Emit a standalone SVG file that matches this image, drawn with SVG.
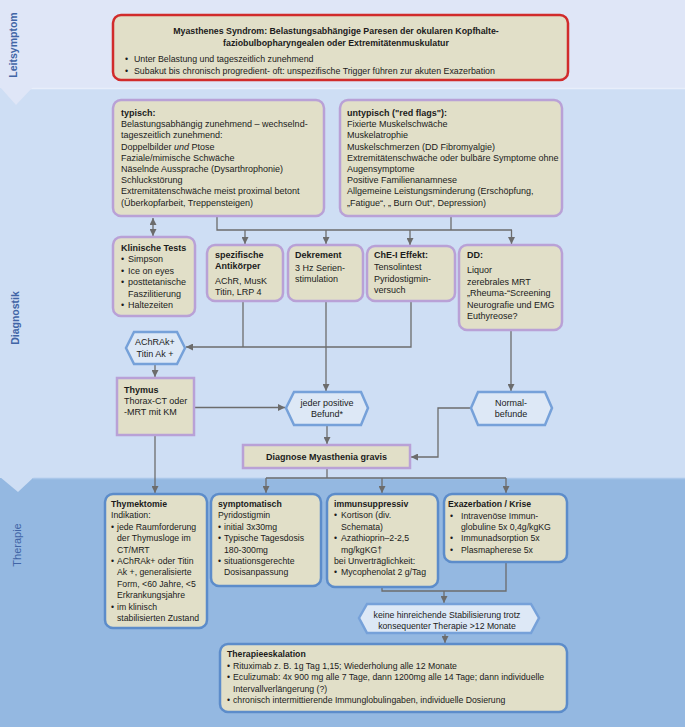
<svg xmlns="http://www.w3.org/2000/svg" width="685" height="727" viewBox="0 0 685 727">
<style>
text{font-family:"Liberation Sans",Arial,sans-serif;font-size:9px;fill:#1b1b1b}
.b{font-weight:bold}
.m{text-anchor:middle}
.s{font-size:8.7px}
.r{font-size:8.8px}
.box{fill:#e1dfc8;stroke:#b9a1d6;stroke-width:2.5}
.bbox{fill:#e1dfc8;stroke:#5c8cca;stroke-width:2.5}
.hex{fill:#dde8f6;stroke:#76a1d9;stroke-width:2.5}
.side{font-size:10.5px;fill:#4165a6}
.con{fill:none;stroke:#6c6c6c;stroke-width:1.3}
</style>
<defs>
<marker id="ah" viewBox="0 0 10 10" refX="10" refY="5" markerWidth="7" markerHeight="7" markerUnits="userSpaceOnUse" orient="auto-start-reverse"><path d="M0,0 L10,5 L0,10 z" fill="#6c6c6c"/></marker>
</defs>
<!-- bands -->
<g id="bands">
<rect x="0" y="0" width="685" height="88" fill="#dfe6f7"/>
<rect x="0" y="88" width="685" height="390" fill="#cedef4"/>
<rect x="0" y="478" width="685" height="249" fill="#94b8e1"/>
<line x1="23" y1="88.5" x2="685" y2="88.5" stroke="#e8eefa" stroke-width="1.5"/>
<polygon points="0,87 33,87 16,105" fill="#dfe6f7"/>
<line x1="33" y1="478.5" x2="685" y2="478.5" stroke="#a9c6e9" stroke-width="1.5"/>
<polygon points="0,477 34,477 18,492" fill="#cedef4"/>
<text class="side b m" transform="translate(17,45) rotate(-90)">Leitsymptom</text>
<text class="side b m" transform="translate(19,318) rotate(-90)">Diagnostik</text>
<text class="side m" style="font-size:11px" transform="translate(21,545) rotate(-90)">Therapie</text>
</g>
<!-- connectors -->
<g id="connectors">
<polyline class="con" points="217,216 217,230 512,230"/>
<line class="con" x1="451" y1="216" x2="451" y2="230"/>
<line class="con" x1="245" y1="230" x2="245" y2="244" marker-end="url(#ah)"/>
<line class="con" x1="326" y1="230" x2="326" y2="244" marker-end="url(#ah)"/>
<line class="con" x1="410" y1="230" x2="410" y2="245" marker-end="url(#ah)"/>
<line class="con" x1="511.5" y1="230" x2="511.5" y2="244" marker-end="url(#ah)"/>
<line class="con" x1="153" y1="218" x2="153" y2="236" marker-start="url(#ah)" marker-end="url(#ah)"/>
<polyline class="con" points="411,301 411,347 186,347" marker-end="url(#ah)"/>
<line class="con" x1="243" y1="301" x2="243" y2="347"/>
<line class="con" x1="326" y1="301" x2="326" y2="391" marker-end="url(#ah)"/>
<line class="con" x1="511" y1="330" x2="511" y2="391" marker-end="url(#ah)"/>
<line class="con" x1="155" y1="364" x2="155" y2="377" marker-end="url(#ah)"/>
<line class="con" x1="194" y1="407.5" x2="285" y2="407.5" marker-end="url(#ah)"/>
<line class="con" x1="327" y1="425" x2="327" y2="444" marker-end="url(#ah)"/>
<polyline class="con" points="471,408 438,408 438,457 411,457" marker-end="url(#ah)"/>
<line class="con" x1="327" y1="468" x2="327" y2="478"/>
<line class="con" x1="266" y1="478" x2="506" y2="478"/>
<line class="con" x1="266" y1="478" x2="266" y2="493" marker-end="url(#ah)"/>
<line class="con" x1="382" y1="478" x2="382" y2="493" marker-end="url(#ah)"/>
<line class="con" x1="506" y1="478" x2="506" y2="493" marker-end="url(#ah)"/>
<line class="con" x1="155" y1="435" x2="155" y2="493" marker-end="url(#ah)"/>
<polyline class="con" points="382,587 382,591 506,591 506,562"/>
<line class="con" x1="444" y1="591" x2="444" y2="603" marker-end="url(#ah)"/>
<line class="con" x1="445" y1="633" x2="445" y2="643" marker-end="url(#ah)"/>
</g>
<!-- Leitsymptom -->
<g id="leitsymptom">
<rect x="113" y="15" width="455" height="65" rx="8" fill="#e1dfc8" stroke="#d12b2b" stroke-width="2.5"/>
<text class="b m r" x="336" y="34">Myasthenes Syndrom: Belastungsabhängige Paresen der okularen Kopfhalte-</text>
<text class="b m r" x="336" y="46">faziobulbopharyngealen oder Extremitätenmuskulatur</text>
<text class="r" x="125" y="62">•</text><text class="r" x="134" y="62">Unter Belastung und tageszeitlich zunehmend</text>
<text class="r" x="125" y="74">•</text><text class="r" x="134" y="74">Subakut bis chronisch progredient- oft: unspezifische Trigger führen zur akuten Exazerbation</text>
</g>
<!-- typisch -->
<g id="typisch">
<rect class="box" x="113" y="100" width="211" height="116" rx="8"/>
<text class="b" x="121" y="116">typisch:</text>
<text x="121" y="127.2">Belastungsabhängig zunehmend – wechselnd-</text>
<text x="121" y="138.4">tageszeitlich zunehmend:</text>
<text x="121" y="149.6">Doppelbilder <tspan font-style="italic">und</tspan> Ptose</text>
<text x="121" y="160.8">Faziale/mimische Schwäche</text>
<text x="121" y="172">Näselnde Aussprache (Dysarthrophonie)</text>
<text x="121" y="183.2">Schluckstörung</text>
<text x="121" y="194.4">Extremitätenschwäche meist proximal betont</text>
<text x="121" y="205.6">(Überkopfarbeit, Treppensteigen)</text>
</g>
<!-- untypisch -->
<g id="untypisch">
<rect class="box" x="340" y="100" width="222" height="116" rx="8"/>
<text class="b" x="347" y="116">untypisch ("red flags"):</text>
<text x="347" y="127.2">Fixierte Muskelschwäche</text>
<text x="347" y="138.4">Muskelatrophie</text>
<text x="347" y="149.6">Muskelschmerzen (DD Fibromyalgie)</text>
<text x="347" y="160.8">Extremitätenschwäche oder bulbäre Symptome ohne</text>
<text x="347" y="172">Augensymptome</text>
<text x="347" y="183.2">Positive Familienanamnese</text>
<text x="347" y="194.4">Allgemeine Leistungsminderung (Erschöpfung,</text>
<text x="347" y="205.6">„Fatigue“, „ Burn Out“, Depression)</text>
</g>
<!-- Klinische Tests -->
<g id="klinische-tests">
<rect class="box" x="113" y="237" width="82" height="79" rx="8"/>
<text class="b" x="121" y="250.5">Klinische Tests</text>
<text x="121" y="262">•</text><text x="128" y="262">Simpson</text>
<text x="121" y="273.5">•</text><text x="128" y="273.5">Ice on eyes</text>
<text x="121" y="285">•</text><text x="128" y="285">posttetanische</text>
<text x="128" y="296.5">Faszilitierung</text>
<text x="121" y="308">•</text><text x="128" y="308">Haltezeiten</text>
</g>
<g id="antikoerper">
<rect class="box" x="207" y="245" width="76" height="56" rx="8"/>
<text class="b" x="215" y="258">spezifische</text>
<text class="b" x="215" y="269">Antikörper</text>
<text x="215" y="284">AChR, MusK</text>
<text x="215" y="295">Titin, LRP 4</text>
</g>
<g id="dekrement">
<rect class="box" x="288" y="245" width="75" height="56" rx="8"/>
<text class="b" x="295" y="258">Dekrement</text>
<text x="295" y="271">3 Hz Serien-</text>
<text x="295" y="282">stimulation</text>
</g>
<g id="chei">
<rect class="box" x="367" y="246" width="88" height="55" rx="8"/>
<text class="b" x="374" y="258">ChE-I Effekt:</text>
<text x="374" y="270">Tensolintest</text>
<text x="374" y="282">Pyridostigmin-</text>
<text x="374" y="293">versuch</text>
</g>
<g id="dd">
<rect class="box" x="459" y="245" width="103" height="85" rx="8"/>
<text class="b" x="467" y="258">DD:</text>
<text x="467" y="273">Liquor</text>
<text x="467" y="285">zerebrales MRT</text>
<text x="467" y="296">„Rheuma-“Screening</text>
<text x="467" y="307.5">Neurografie und EMG</text>
<text x="467" y="319">Euthyreose?</text>
</g>
<g id="achrak">
<polygon class="hex" points="126,348 134,332 177,332 185,348 177,364 134,364"/>
<text class="m" x="155" y="345">AChRAk+</text>
<text class="m" x="155" y="357">Titin Ak +</text>
</g>
<g id="thymus">
<rect class="box" x="117" y="378" width="77" height="57"/>
<text class="b" x="124" y="393">Thymus</text>
<text x="124" y="404">Thorax-CT oder</text>
<text x="124" y="415">-MRT mit KM</text>
</g>
<g id="positiv">
<polygon class="hex" points="286,408 294,392 361,392 368,408 361,425 294,425"/>
<text class="m" x="327" y="406">jeder positive</text>
<text class="m" x="327" y="417">Befund*</text>
</g>
<g id="normal">
<polygon class="hex" points="471,408 478,392 545,392 552,408 545,425 478,425"/>
<text class="m" x="511" y="406">Normal-</text>
<text class="m" x="511" y="417">befunde</text>
</g>
<g id="diagnose">
<rect class="box" x="243" y="445" width="167" height="23"/>
<text class="b m" x="326.5" y="460">Diagnose Myasthenia gravis</text>
</g>
<!-- Therapie -->
<g id="thymektomie">
<rect class="bbox" x="105" y="494" width="102" height="134" rx="8"/>
<text class="b s" x="111" y="507">Thymektomie</text>
<text class="s" x="111" y="518.4">Indikation:</text>
<text class="s" x="111" y="529.8">•</text><text class="s" x="117" y="529.8">jede  Raumforderung</text>
<text class="s" x="117" y="541.2">der Thymusloge im</text>
<text class="s" x="117" y="552.6">CT/MRT</text>
<text class="s" x="111" y="564">•</text><text class="s" x="117" y="564">AChRAk+ oder Titin</text>
<text class="s" x="117" y="575.4">Ak +, generalisierte</text>
<text class="s" x="117" y="586.8">Form, &lt;60 Jahre, &lt;5</text>
<text class="s" x="117" y="598.2">Erkrankungsjahre</text>
<text class="s" x="111" y="609.6">•</text><text class="s" x="117" y="609.6">im klinisch</text>
<text class="s" x="117" y="621">stabilisierten Zustand</text>
</g>
<g id="symptomatisch">
<rect class="bbox" x="211" y="494" width="110" height="92" rx="8"/>
<text class="b s" x="218" y="507">symptomatisch</text>
<text class="s" x="218" y="518.4">Pyridostigmin</text>
<text class="s" x="218" y="529.8">•</text><text class="s" x="224" y="529.8">initial 3x30mg</text>
<text class="s" x="218" y="541.2">•</text><text class="s" x="224" y="541.2">Typische Tagesdosis</text>
<text class="s" x="224" y="552.6">180-300mg</text>
<text class="s" x="218" y="564">•</text><text class="s" x="224" y="564">situationsgerechte</text>
<text class="s" x="224" y="575.4">Dosisanpassung</text>
</g>
<g id="immunsuppressiv">
<rect class="bbox" x="327" y="494" width="111" height="93" rx="8"/>
<text class="b s" x="334" y="507">immunsuppressiv</text>
<text class="s" x="334" y="518.4">•</text><text class="s" x="341" y="518.4">Kortison (div.</text>
<text class="s" x="341" y="529.8">Schemata)</text>
<text class="s" x="334" y="541.2">•</text><text class="s" x="341" y="541.2">Azathioprin–2-2,5</text>
<text class="s" x="341" y="552.6">mg/kgKG†</text>
<text class="s" x="334" y="564">bei Unverträglichkeit:</text>
<text class="s" x="334" y="575.4">•</text><text class="s" x="341" y="575.4">Mycophenolat 2 g/Tag</text>
</g>
<g id="exazerbation">
<rect class="bbox" x="444" y="494" width="123" height="68" rx="8"/>
<text class="b s" x="448" y="507">Exazerbation / Krise</text>
<text class="s" x="450" y="518.6">•</text><text class="s" x="461" y="518.6">Intravenöse Immun-</text>
<text class="s" x="461" y="530">globuline 5x 0,4g/kgKG</text>
<text class="s" x="450" y="541.4">•</text><text class="s" x="461" y="541.4">Immunadsorption 5x</text>
<text class="s" x="450" y="552.8">•</text><text class="s" x="461" y="552.8">Plasmapherese 5x</text>
</g>
<g id="keine">
<polygon class="hex" points="359,618 367,604 531,604 539,618 531,633 367,633"/>
<text class="m s" x="447" y="618">keine hinreichende Stabilisierung trotz</text>
<text class="m s" x="447" y="629">konsequenter Therapie &gt;12 Monate</text>
</g>
<g id="eskalation">
<rect class="bbox" x="220" y="644" width="347" height="68" rx="8"/>
<text class="b s" x="227" y="657">Therapieeskalation</text>
<text class="s" x="227" y="668.7">•</text><text class="s" x="233" y="668.7">Rituximab z. B. 1g Tag 1,15; Wiederholung alle 12 Monate</text>
<text class="s" x="227" y="680.3">•</text><text class="s" x="233" y="680.3">Eculizumab: 4x 900 mg alle 7 Tage, dann 1200mg alle 14 Tage; dann individuelle</text>
<text class="s" x="233" y="691.7">Intervallverlängerung (?)</text>
<text class="s" x="227" y="703">•</text><text class="s" x="233" y="703">chronisch intermittierende Immunglobulingaben, individuelle Dosierung</text>
</g>
</svg>
